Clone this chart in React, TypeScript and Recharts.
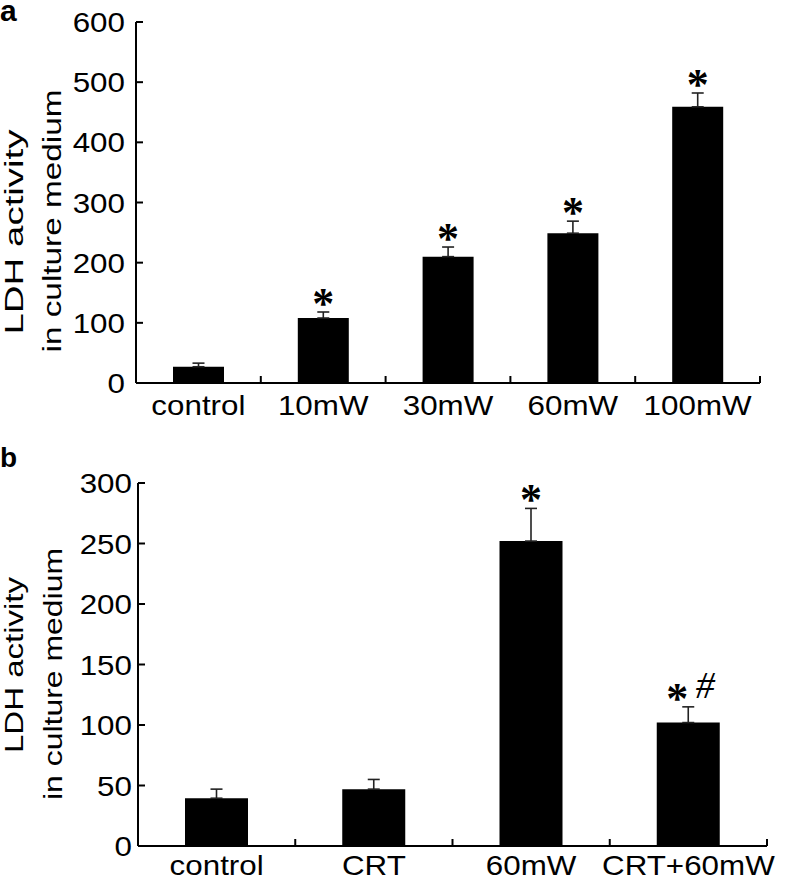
import { Bar, BarChart, ErrorBar, LabelList, XAxis, YAxis } from "recharts";

// panel a: LDH release vs laser power
const powerGroups = ["control", "10mW", "30mW", "60mW", "100mW"];
const powerLdh = [27, 108, 210, 249, 459];
const powerErr = [6, 10, 16, 20, 23];
const powerMarks = ["", "*", "*", "*", "*"];
const powerTicks = [0, 100, 200, 300, 400, 500, 600];

// panel b: CRT pretreatment
const crtGroups = ["control", "CRT", "60mW", "CRT+60mW"];
const crtLdh = [39.5, 47, 252, 102];
const crtErr = [7.5, 8, 27, 13];
const crtMarks = ["", "", "*", "*#"];
const crtTicks = [0, 50, 100, 150, 200, 250, 300];

const FONT = '"Liberation Sans", Arial, sans-serif';
const STRETCH = 1.12;

function toRows(groups: string[], vals: number[], errs: number[], marks: string[]) {
  return groups.map((name, i) => ({ name, value: vals[i], err: [0, errs[i]], mark: marks[i] }));
}

const powerRows = toRows(powerGroups, powerLdh, powerErr, powerMarks);
const crtRows = toRows(crtGroups, crtLdh, crtErr, crtMarks);

function XTick(props: any) {
  const { x, y, payload, width, count } = props;
  const half = payload.offset ? payload.offset : width / count / 2;
  return (
    <g>
      <line x1={x + half} x2={x + half} y1={y} y2={y - 7} stroke="#000" strokeWidth={2} />
      <text
        transform={`translate(${x},${y + props.drop}) scale(${STRETCH},1)`}
        textAnchor="middle"
        fontSize={28}
        fontFamily={FONT}
        fill="#000"
      >
        {payload.value}
      </text>
    </g>
  );
}

function YTick(props: any) {
  const { x, y, payload, gap } = props;
  return (
    <g>
      <line x1={x} x2={x + 7} y1={y} y2={y} stroke="#000" strokeWidth={2} />
      <text
        transform={`translate(${x - gap},${y}) scale(${STRETCH},1)`}
        textAnchor="end"
        dy="0.36em"
        fontSize={28}
        fontFamily={FONT}
        fill="#000"
      >
        {payload.value}
      </text>
    </g>
  );
}

function makeMarks(vals: number[], errs: number[]) {
  return (props: any) => {
    const vb = props.viewBox ?? props;
    const { x, y, width, height } = vb;
    const { value, index } = props;
    if (!value) return null;
    const unit = height / vals[index];
    const capY = y - errs[index] * unit;
    const cx = x + width / 2;
    const star = (sx: number) => (
      <text
        x={sx}
        y={capY + 6}
        textAnchor="middle"
        fontSize={44}
        fontWeight="bold"
        fontFamily='"Liberation Serif", serif'
        fill="#000"
      >
        *
      </text>
    );
    if (value === "*#") {
      return (
        <g>
          {star(cx - 11)}
          <text
            x={cx + 17}
            y={capY - 9}
            textAnchor="middle"
            fontSize={38}
            fontStyle="italic"
            fontFamily='"Liberation Serif", serif'
            fill="#000"
          >
            #
          </text>
        </g>
      );
    }
    return star(cx);
  };
}

const axisLine = { stroke: "#000", strokeWidth: 2 };

function YTitle({ x1, x2, cy1, cy2, len1, len2 }: any) {
  return (
    <g fontFamily={FONT} fontSize={25} fill="#000">
      <text transform={`translate(${x1},${cy1}) rotate(-90)`} textAnchor="middle" textLength={len1} lengthAdjust="spacingAndGlyphs">
        LDH activity
      </text>
      <text transform={`translate(${x2},${cy2}) rotate(-90)`} textAnchor="middle" textLength={len2} lengthAdjust="spacingAndGlyphs">
        in culture medium
      </text>
    </g>
  );
}

export default function App() {
  return (
    <div style={{ position: "absolute", left: 0, top: 0, width: 788, height: 880, background: "#fff", fontFamily: FONT }}>
      <div style={{ position: "absolute", left: 0, top: 0 }}>
        <BarChart width={788} height={430} data={powerRows} margin={{ top: 22, right: 28, bottom: 0, left: 0 }}>
          <XAxis
            dataKey="name"
            height={47}
            axisLine={axisLine}
            tickLine={false}
            tickSize={0}
            tickMargin={0}
            interval={0}
            tick={<XTick count={powerGroups.length} drop={32} />}
          />
          <YAxis
            width={136}
            domain={[0, 600]}
            ticks={powerTicks}
            interval={0}
            axisLine={axisLine}
            tickLine={false}
            tickSize={0}
            tickMargin={0}
            tick={<YTick gap={11} />}
          />
          <Bar dataKey="value" fill="#000" barSize={51} isAnimationActive={false}>
            <ErrorBar dataKey="err" width={6} stroke="#222" strokeWidth={1.6} isAnimationActive={false} />
            <LabelList dataKey="mark" content={makeMarks(powerLdh, powerErr)} />
          </Bar>
        </BarChart>
      </div>
      <div style={{ position: "absolute", left: 0, top: 440 }}>
        <BarChart width={788} height={440} data={crtRows} margin={{ top: 43, right: 21, bottom: 0, left: 0 }}>
          <XAxis
            dataKey="name"
            height={34}
            axisLine={axisLine}
            tickLine={false}
            tickSize={0}
            tickMargin={0}
            interval={0}
            tick={<XTick count={crtGroups.length} drop={29} />}
          />
          <YAxis
            width={138}
            domain={[0, 300]}
            ticks={crtTicks}
            interval={0}
            axisLine={axisLine}
            tickLine={false}
            tickSize={0}
            tickMargin={0}
            tick={<YTick gap={6} />}
          />
          <Bar dataKey="value" fill="#000" barSize={63} isAnimationActive={false}>
            <ErrorBar dataKey="err" width={6} stroke="#222" strokeWidth={1.6} isAnimationActive={false} />
            <LabelList dataKey="mark" content={makeMarks(crtLdh, crtErr)} />
          </Bar>
        </BarChart>
      </div>
      <svg width={788} height={880} style={{ position: "absolute", left: 0, top: 0, pointerEvents: "none" }}>
        <text x={0} y={21} fontSize={30} fontWeight="bold" fontFamily={FONT} fill="#000">a</text>
        <text x={0} y={467} fontSize={28} fontWeight="bold" fontFamily={FONT} fill="#000">b</text>
        <YTitle x1={23} x2={61} cy1={232} cy2={221} len1={205} len2={263} />
        <YTitle x1={23} x2={62} cy1={665} cy2={674} len1={176} len2={252} />
      </svg>
    </div>
  );
}
